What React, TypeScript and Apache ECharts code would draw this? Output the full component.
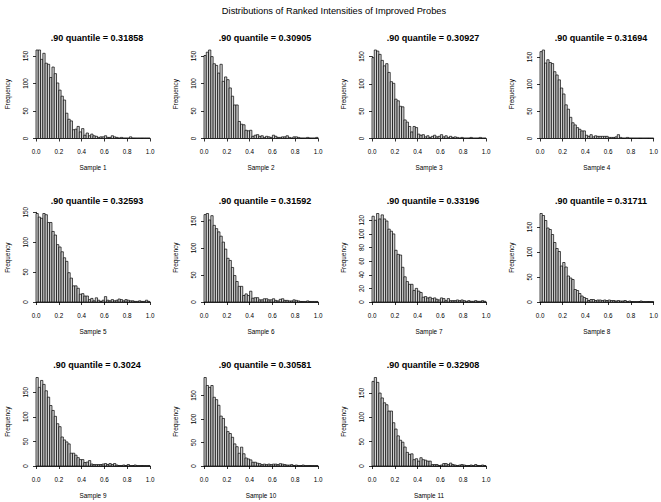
import React, { useEffect, useRef } from "react";
import * as echarts from "echarts";

const MAIN_TITLE = "Distributions of Ranked Intensities of Improved Probes";
const SAMPLE_NAMES = [
  "Sample 1", "Sample 2", "Sample 3", "Sample 4", "Sample 5", "Sample 6",
  "Sample 7", "Sample 8", "Sample 9", "Sample 10", "Sample 11",
];
const QUANTILES = [
  "0.31858", "0.30905", "0.30927", "0.31694", "0.32593", "0.31592",
  "0.33196", "0.31711", "0.3024", "0.30581", "0.32908",
];
const X_TICKS = [0, 0.2, 0.4, 0.6, 0.8, 1.0];
const BIN_WIDTH = 0.02;
const Y_TICK_STEP = [50, 50, 50, 50, 50, 50, 20, 50, 50, 50, 50];
const Y_TICK_MAX = [150, 150, 150, 150, 150, 150, 120, 150, 150, 150, 150];

const S1 = [161, 161, 144, 155, 137, 135, 111, 130, 118, 101, 88, 77, 70, 46, 35, 32, 16, 17, 22, 12, 18, 6, 10, 5, 8, 5,
  4, 2, 3, 3, 5, 2, 2, 5, 3, 2, 1, 2, 1, 1, 1, 3, 1, 1, 1, 1, 1, 1, 1, 1];
const S2 = [151, 157, 161, 149, 136, 133, 119, 135, 104, 112, 107, 92, 77, 61, 61, 31, 26, 25, 15, 14, 15, 4, 6, 7, 4, 5,
  2, 4, 3, 2, 6, 4, 2, 2, 3, 3, 5, 2, 1, 3, 3, 2, 1, 1, 1, 2, 1, 1, 1, 2];
const S3 = [148, 162, 160, 154, 143, 133, 137, 121, 104, 101, 72, 69, 59, 58, 34, 30, 22, 12, 22, 20, 8, 6, 7, 3, 5, 2,
  4, 6, 3, 4, 7, 3, 5, 2, 4, 2, 3, 2, 1, 2, 1, 1, 1, 2, 1, 1, 1, 2, 1, 1];
const S4 = [160, 163, 139, 145, 140, 138, 123, 117, 108, 93, 82, 62, 54, 39, 29, 25, 20, 17, 14, 14, 6, 4, 7, 3, 5, 4,
  4, 4, 4, 4, 2, 2, 2, 3, 7, 2, 1, 1, 2, 1, 1, 1, 1, 1, 1, 1, 1, 1, 1, 1];
const S5 = [148, 142, 140, 148, 146, 133, 133, 118, 112, 96, 92, 84, 74, 68, 49, 40, 27, 27, 23, 13, 14, 10, 10, 4, 6, 2,
  7, 3, 1, 3, 9, 3, 2, 4, 2, 3, 5, 4, 2, 4, 3, 2, 2, 1, 1, 2, 1, 1, 3, 1];
const S6 = [162, 164, 152, 160, 142, 136, 130, 122, 111, 98, 81, 77, 64, 49, 38, 29, 29, 12, 15, 12, 20, 7, 8, 8, 4, 4,
  6, 6, 4, 4, 6, 3, 2, 5, 6, 3, 3, 2, 2, 4, 3, 2, 1, 1, 1, 2, 1, 1, 1, 1];
const S7 = [126, 120, 130, 122, 128, 122, 119, 107, 104, 100, 76, 70, 69, 51, 37, 30, 26, 26, 17, 20, 16, 14, 7, 8, 6, 7,
  5, 6, 4, 3, 6, 5, 2, 5, 2, 2, 2, 3, 2, 3, 2, 1, 2, 1, 1, 2, 1, 1, 2, 1];
const S8 = [177, 173, 163, 148, 145, 135, 119, 107, 101, 72, 79, 70, 52, 48, 45, 25, 23, 17, 12, 9, 7, 3, 5, 5, 3, 4,
  4, 3, 4, 3, 4, 3, 3, 2, 3, 2, 2, 3, 1, 2, 1, 1, 1, 1, 2, 1, 1, 1, 1, 1];
const S9 = [180, 160, 174, 166, 153, 140, 123, 113, 101, 86, 80, 59, 53, 49, 45, 26, 26, 22, 17, 13, 13, 7, 8, 11, 4, 3,
  3, 3, 3, 4, 5, 3, 5, 3, 5, 2, 1, 1, 2, 1, 3, 1, 1, 2, 1, 1, 1, 1, 1, 1];
const S10 = [188, 171, 167, 171, 146, 141, 129, 106, 101, 83, 73, 69, 61, 47, 41, 27, 40, 26, 17, 15, 13, 8, 8, 6, 5, 3,
  4, 3, 4, 3, 4, 4, 3, 5, 4, 3, 2, 2, 3, 1, 2, 1, 1, 2, 1, 1, 1, 1, 1, 1];
const S11 = [174, 182, 172, 150, 140, 130, 126, 113, 113, 89, 76, 62, 53, 49, 39, 28, 24, 25, 13, 15, 10, 17, 13, 12, 10, 10,
  3, 3, 3, 1, 2, 5, 5, 3, 6, 3, 2, 1, 2, 3, 2, 1, 1, 2, 1, 3, 1, 1, 2, 1];

const PANELS = [S1, S2, S3, S4, S5, S6, S7, S8, S9, S10, S11];

// layout
const COL_X = [36, 204, 372, 540];
const ROW_BASE = [138.5, 302, 466];
const PLOT_W = 114;
const PLOT_H = 88.5;
const FONT = "'Liberation Sans', Arial, Helvetica, sans-serif";

function buildOption() {
  const grid: any[] = [];
  const xAxis: any[] = [];
  const yAxis: any[] = [];
  const series: any[] = [];
  const title: any[] = [
    {
      text: MAIN_TITLE,
      left: 329,
      top: 1,
      textAlign: "center",
      textStyle: { fontSize: 9.3, fontWeight: "normal", fontFamily: FONT, color: "#000" },
    },
  ];
  const lineStyle = { color: "#000", width: 0.8 };
  PANELS.forEach((counts, i) => {
    const col = i % 4;
    const row = Math.floor(i / 4);
    const x0 = COL_X[col];
    const base = ROW_BASE[row];
    const ymax = Math.max(...counts);

    const gi = grid.length;
    grid.push({ left: x0, top: base - PLOT_H, width: PLOT_W, height: PLOT_H });
    xAxis.push({
      gridIndex: gi,
      type: "value",
      min: X_TICKS[0],
      max: X_TICKS[X_TICKS.length - 1],
      interval: X_TICKS[1] - X_TICKS[0],
      offset: 7,
      axisLine: { show: true, lineStyle },
      axisTick: { show: true, length: 3, lineStyle },
      axisLabel: {
        formatter: (v: number) => v.toFixed(1),
        fontSize: 6.3,
        margin: 3,
        color: "#000",
        fontFamily: FONT,
      },
      splitLine: { show: false },
      name: SAMPLE_NAMES[i],
      nameLocation: "middle",
      nameGap: 19,
      nameTextStyle: { fontSize: 6.4, color: "#000", fontFamily: FONT },
    });
    yAxis.push({
      gridIndex: gi,
      type: "value",
      min: 0,
      max: ymax,
      axisLine: { show: false },
      axisTick: { show: false },
      axisLabel: { show: false },
      splitLine: { show: false },
      name: "Frequency",
      nameLocation: "middle",
      nameGap: 26,
      nameRotate: 90,
      nameTextStyle: { fontSize: 6.4, color: "#000", fontFamily: FONT },
    });
    series.push({
      type: "custom",
      xAxisIndex: gi,
      yAxisIndex: gi,
      data: counts.map((c, k) => [k * BIN_WIDTH, (k + 1) * BIN_WIDTH, c]),
      encode: { x: [0, 1], y: 2 },
      renderItem: (_p: any, api: any) => {
        const p0 = api.coord([api.value(0), api.value(2)]);
        const p1 = api.coord([api.value(1), 0]);
        return {
          type: "rect",
          shape: { x: p0[0], y: p0[1], width: p1[0] - p0[0], height: p1[1] - p0[1] },
          style: { fill: "#d3d3d3", stroke: "#000", lineWidth: 0.7 },
        };
      },
    });

    const ai = grid.length;
    const tickMax = Y_TICK_MAX[i];
    const h = (PLOT_H * tickMax) / ymax;
    grid.push({ left: x0, top: base - h, width: PLOT_W, height: h });
    xAxis.push({ gridIndex: ai, type: "value", min: 0, max: 1, show: false });
    yAxis.push({
      gridIndex: ai,
      type: "value",
      min: 0,
      max: tickMax,
      interval: Y_TICK_STEP[i],
      offset: 4,
      axisLine: { show: true, lineStyle },
      axisTick: { show: true, length: 3, lineStyle },
      axisLabel: { rotate: 90, fontSize: 6.3, margin: 4, color: "#000", fontFamily: FONT },
      splitLine: { show: false },
    });

    title.push({
      text: ".90 quantile = " + QUANTILES[i],
      left: x0 + PLOT_W / 2 - 1,
      top: base - PLOT_H - 22,
      textAlign: "center",
      textStyle: { fontSize: 9, fontWeight: "bold", fontFamily: FONT, color: "#000" },
    });
  });

  return {
    animation: false,
    backgroundColor: "#fff",
    title,
    grid,
    xAxis,
    yAxis,
    series,
  };
}

export default function App() {
  const ref = useRef<HTMLDivElement>(null);
  useEffect(() => {
    if (!ref.current) return;
    const chart = echarts.init(ref.current, undefined, { renderer: "svg" });
    chart.setOption(buildOption() as any);
    return () => chart.dispose();
  }, []);
  return (
    <div
      ref={ref}
      style={{ position: "fixed", left: 0, top: 0, width: 661, height: 502, background: "#fff" }}
    />
  );
}
